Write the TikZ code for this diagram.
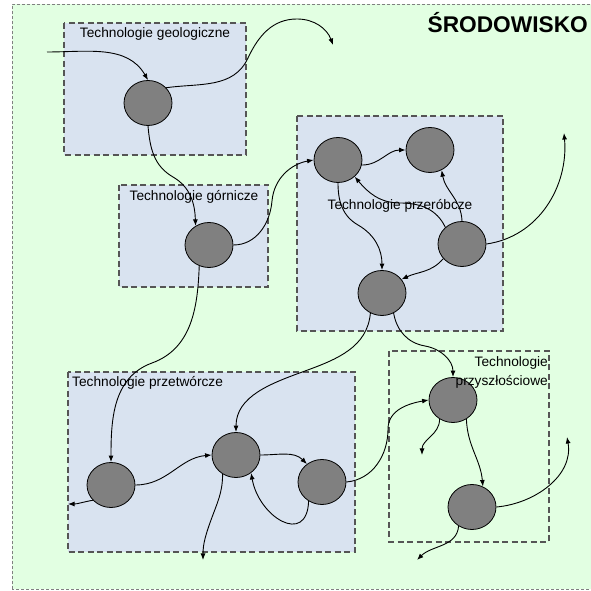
\documentclass[tikz,border=0pt]{standalone}
\usepackage{fontspec}
\setmainfont{Liberation Sans}
\usetikzlibrary{shapes.geometric,arrows.meta}
\definecolor{envgreen}{RGB}{226,255,226}
\definecolor{techblue}{RGB}{217,227,240}
\definecolor{procgray}{RGB}{128,128,128}
\definecolor{framegray}{RGB}{85,85,85}

\begin{document}
\begin{tikzpicture}[x=1pt, y=1pt,
    area/.style={draw=framegray, dash pattern=on 6pt off 3.5pt, line width=1.1pt},
    proc/.style={ellipse, draw=black, fill=procgray, line width=0.8pt,
      minimum width=48pt, minimum height=45pt, inner sep=0pt},
    title/.style={font=\fontsize{13.7}{19}\selectfont, inner sep=0pt},
    flow/.style={-{Latex[length=6.5pt,width=5pt]}, line width=0.9pt}]
  \useasboundingbox (0,0) rectangle (590,591);
  % surroundings
  \draw[fill=envgreen, draw=gray, dash pattern=on 3pt off 2pt, line width=0.7pt]
    (12,2) rectangle (593,587);
  \node[anchor=east, inner sep=0pt, font=\fontsize{22.7}{26}\selectfont\bfseries]
    (env) at (588,568) {ŚRODOWISKO};

  % technology areas
  \draw[area, fill=techblue] (64,568) rectangle (246,436);
  \draw[area, fill=techblue] (119,406) rectangle (268,304);
  \draw[area, fill=techblue] (297,475) rectangle (503,260);
  \draw[area, fill=techblue] (68,219) rectangle (355,39);
  \draw[area] (389,240) rectangle (549,49);

  % processes
  \node[proc] (G1) at (148,488) {};
  \node[proc] (G2) at (209,346) {};
  \node[proc] (P1) at (338,431) {};
  \node[proc] (P2) at (430,441) {};
  \node[proc] (P3) at (462,347) {};
  \node[proc] (P4) at (382,298) {};
  \node[proc] (T1) at (111,106) {};
  \node[proc] (T2) at (236,136) {};
  \node[proc] (T3) at (322,109) {};
  \node[proc] (F1) at (453,191) {};
  \node[proc] (F2) at (472,84) {};

  % area titles
  \node[title] (geo) at (155,557) {Technologie geologiczne};
  \node[title] (gorn) at (194,394) {Technologie górnicze};
  \node[title] (przer) at (400,385) {Technologie przeróbcze};
  \node[title, anchor=west] (przetw) at (72,208) {Technologie przetwórcze};
  \node[title, anchor=north east, align=right] (przysz) at (548,235)
    {Technologie\\przyszłościowe};

  % free ends
  \coordinate (in0) at (47,539);
  \coordinate (out1) at (333,546);
  \coordinate (out2) at (564,458);
  \coordinate (out3) at (68,87);
  \coordinate (out4) at (203,31);
  \coordinate (out5) at (422,136);
  \coordinate (out6) at (567,154);
  \coordinate (out7) at (417,31);

  % flows
  \draw[flow] (in0) to[out=0, in=120] (G1.north);
  \draw[flow] (G1.40) to[out=8, in=245] (248,533) to[out=65, in=180] (297,572)
    to[out=0, in=110] (out1);
  \draw[flow] (G1.south) to[out=-85, in=150] (173,414) to[out=-30, in=92] (G2.125);
  \draw[flow] (G2.east) to[out=0, in=-95] (272,390) to[out=85, in=190] (P1.west);
  \draw[flow] (G2.245) to[out=-92, in=20] (152,228) to[out=200, in=90] (T1.north);
  \draw[flow] (P1.-12) to[out=0, in=180] (P2.west);
  \draw[flow] (P1.south) to[out=-90, in=150] (358,366) to[out=-30, in=90] (P4.north);
  \draw[flow] (P3.135) to[out=115, in=0] (400,388) to[out=180, in=-50] (P1.-45);
  \draw[flow] (P3.north) to[out=92, in=-80] (P2.-60);
  \draw[flow] (P3.218) to[out=230, in=25] (P4.35);
  \draw[flow] (P3.east) to[out=8, in=-85] (out2);
  \draw[flow] (P4.240) to[out=-95, in=20] (305,220) to[out=200, in=90] (T2.north);
  \draw[flow] (P4.-60) to[out=-80, in=170] (425,245) to[out=-10, in=90] (F1.north);
  \draw[flow] (T1.east) to[out=0, in=185] (T2.west);
  \draw[flow] (T1.220) to[out=190, in=0] (out3);
  \draw[flow] (T2.east) to[out=0, in=135] (T3.130);
  \draw[flow] (T3.235) to[out=-92, in=-80, looseness=1.8] (T2.-50);
  \draw[flow] (T2.235) to[out=-90, in=70] (211,71) to[out=250, in=90] (out4);
  \draw[flow] (T3.east) to[out=5, in=-90] (388,162) to[out=90, in=190] (F1.west);
  \draw[flow] (F1.235) to[out=-90, in=90] (out5);
  \draw[flow] (F1.-55) to[out=-88, in=95] (F2.62);
  \draw[flow] (F2.east) to[out=5, in=-80] (out6);
  \draw[flow] (F2.235) to[out=-95, in=45] (out7);
\end{tikzpicture}
\end{document}
